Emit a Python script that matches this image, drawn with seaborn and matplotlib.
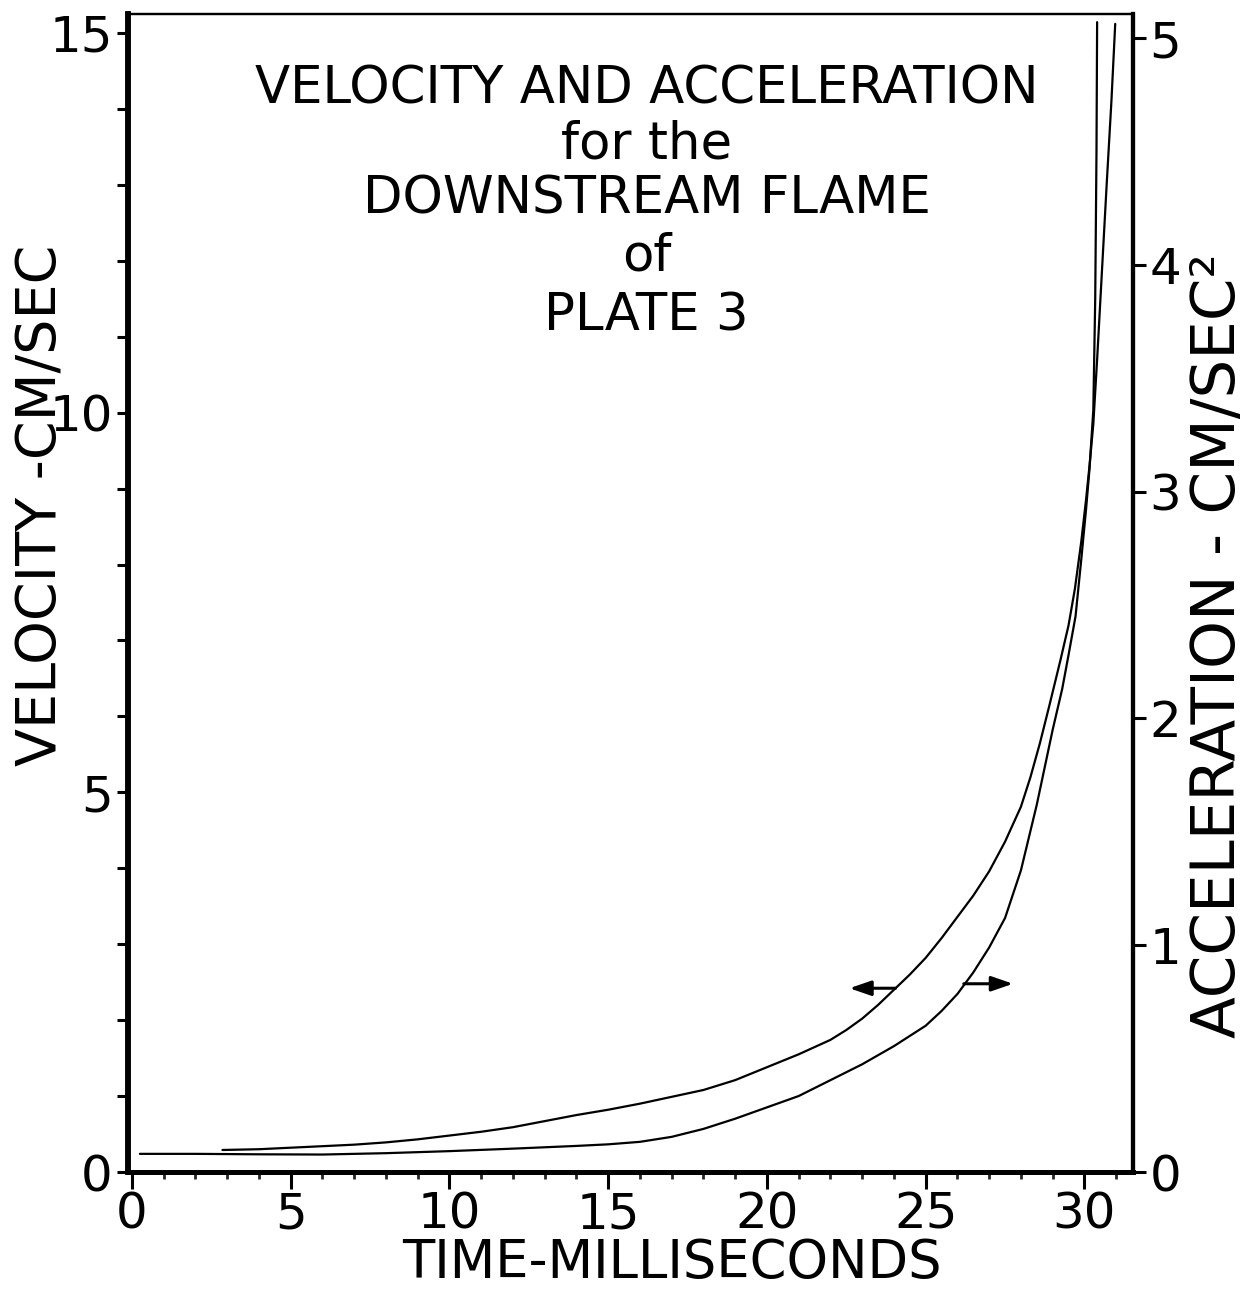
import numpy as np
import pandas as pd
import matplotlib
matplotlib.use("Agg")
import matplotlib.pyplot as plt
from matplotlib.ticker import MultipleLocator
import seaborn as sns

# Velocity of the downstream flame (left axis, cm/sec)
vel_time = [2.85, 4.0, 5.0, 6.0, 7.0, 8.0, 9.0, 10.0, 11.0, 12.0, 13.0, 14.0, 15.0,
            16.0, 17.0, 18.0, 19.0, 20.0, 21.0, 22.0, 22.5, 23.0, 23.5, 24.0, 24.5,
            25.0, 25.5, 26.0, 26.5, 27.0, 27.5, 28.0, 28.3, 28.6, 28.9, 29.25, 29.5,
            29.7, 29.9, 30.05, 30.16, 30.28, 30.4, 30.55, 30.7, 30.85, 30.97]
vel_value = [0.29, 0.30, 0.32, 0.34, 0.36, 0.39, 0.43, 0.48, 0.53, 0.59, 0.67, 0.75, 0.82,
             0.90, 0.99, 1.08, 1.21, 1.38, 1.55, 1.74, 1.87, 2.02, 2.20, 2.40, 2.60,
             2.82, 3.08, 3.36, 3.64, 3.96, 4.35, 4.81, 5.20, 5.65, 6.15, 6.75, 7.20,
             7.68, 8.30, 8.85, 9.30, 9.85, 10.7, 11.85, 13.0, 14.1, 15.12]

# Acceleration of the downstream flame (right axis, cm/sec^2)
acc_time = [0.25, 2.0, 4.0, 6.0, 8.0, 10.0, 12.0, 14.0, 15.0, 16.0, 17.0, 18.0, 19.0,
            20.0, 21.0, 22.0, 23.0, 24.0, 25.0, 25.5, 26.0, 26.5, 27.0, 27.5, 28.0,
            28.5, 29.0, 29.3, 29.5, 29.72, 29.9, 30.05, 30.16, 30.28, 30.34, 30.38, 30.4]
acc_value = [0.08, 0.08, 0.078, 0.077, 0.083, 0.092, 0.103, 0.115, 0.122, 0.133, 0.155,
             0.19, 0.235, 0.285, 0.335, 0.405, 0.475, 0.555, 0.645, 0.71, 0.785, 0.88,
             0.99, 1.12, 1.33, 1.62, 1.95, 2.13, 2.28, 2.45, 2.70, 2.92, 3.10, 3.36,
             3.85, 4.5, 5.07]

x_ticks = [0, 5, 10, 15, 20, 25, 30]
vel_ticks = [0, 5, 10, 15]
acc_ticks = [0, 1, 2, 3, 4, 5]

title_lines = ["VELOCITY AND ACCELERATION", "for the", "DOWNSTREAM FLAME", "of", "PLATE 3"]
title_baselines = [0.9223, 0.8748, 0.8273, 0.7789, 0.7271]

vel_df = pd.DataFrame({"time": vel_time, "velocity": vel_value})
acc_df = pd.DataFrame({"time": acc_time, "acceleration": acc_value})

sns.set_style("ticks")
plt.rcParams["font.family"] = ["DejaVu Sans"]
plt.rcParams["text.color"] = "black"
plt.rcParams["axes.labelcolor"] = "black"

fig = plt.figure(figsize=(12.57, 12.89), dpi=100)
ax = fig.add_axes([128 / 1257, 1 - 1172 / 1289, (1133 - 128) / 1257, (1172 - 14) / 1289])
ax2 = ax.twinx()

sns.lineplot(data=vel_df, x="time", y="velocity", ax=ax, color="black",
             linewidth=1.6, sort=False, estimator=None)
sns.lineplot(data=acc_df, x="time", y="acceleration", ax=ax2, color="black",
             linewidth=1.6, sort=False, estimator=None)

ax.set_xlim(-0.125, 31.53)
ax.set_ylim(0, 15.25)
ax2.set_ylim(0, 5.106)

# Axis frame
for side, lw in [("left", 4.0), ("bottom", 3.5), ("right", 3.0), ("top", 1.6)]:
    for a in (ax, ax2):
        a.spines[side].set_linewidth(lw)
        a.spines[side].set_color("black")

ax.set_xticks(x_ticks)
ax.xaxis.set_minor_locator(MultipleLocator(1))
ax.set_yticks(vel_ticks)
ax.yaxis.set_minor_locator(MultipleLocator(1))
ax2.set_yticks(acc_ticks)

ax.tick_params(axis="x", which="major", direction="out", length=12, width=2.2,
               labelsize=36, pad=1, colors="black")
ax.tick_params(axis="x", which="minor", direction="out", length=5, width=2.0)
ax.tick_params(axis="y", which="both", direction="out", length=8, width=2.2,
               labelsize=36, pad=3, colors="black")
ax2.tick_params(axis="y", which="major", direction="out", length=9, width=2.2,
                labelsize=36, pad=3, colors="black")
ax.tick_params(axis="x", which="both", top=False)

ax.set_xlabel("TIME-MILLISECONDS", fontsize=38, va="center", color="black")
ax.xaxis.set_label_coords(0.541, -0.079)
ax.set_ylabel("VELOCITY -CM/SEC", fontsize=40, va="center", color="black")
ax.yaxis.set_label_coords(-0.0856, 0.576)
ax2.set_ylabel("ACCELERATION - CM/SEC\u00b2", fontsize=44, va="center", rotation=90,
               color="black")
ax2.yaxis.set_label_coords(1.0846, 0.455)

# Title block inside the plot
for line, yb in zip(title_lines, title_baselines):
    ax.text(0.516, yb, line, transform=ax.transAxes,
            ha="center", va="baseline", fontsize=37, color="black")

# Arrows indicating which axis each curve belongs to
arrow_style = "-|>,head_length=1.3,head_width=0.45"
ax.annotate("", xy=(22.6, 2.42), xytext=(24.05, 2.42),
            arrowprops=dict(arrowstyle=arrow_style, color="black", lw=2.2,
                            shrinkA=0, shrinkB=0))
ax2.annotate("", xy=(27.75, 0.83), xytext=(26.2, 0.83),
             arrowprops=dict(arrowstyle=arrow_style, color="black", lw=2.2,
                             shrinkA=0, shrinkB=0))

fig.savefig("out.png", dpi=100, facecolor="white")
